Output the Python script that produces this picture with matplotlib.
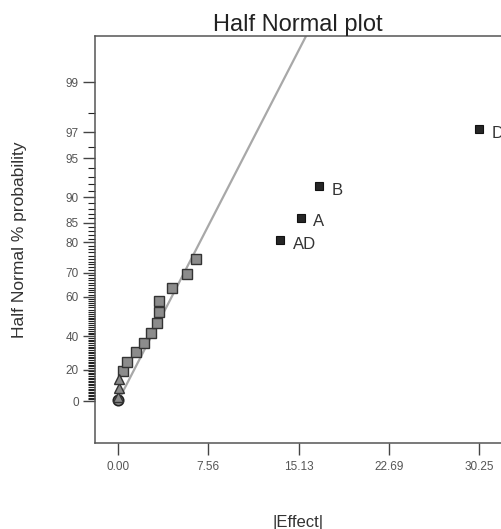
import matplotlib
matplotlib.use("Agg")
import matplotlib.pyplot as plt
from statistics import NormalDist

plt.rcParams['font.family'] = ['Liberation Sans', 'DejaVu Sans']

# ---- data ----
tri_effect = [0.02, 0.05, 0.10]
tri_prob = [2.8, 8.3, 13.9]

circ_effect = [0.00]
circ_prob = [0.4]

sq_effect = [0.44, 0.73, 1.48, 2.20, 2.76, 3.24, 3.46, 3.46, 4.52, 5.75, 6.51]
sq_prob = [19.4, 25.0, 30.6, 36.1, 41.7, 47.2, 52.8, 58.3, 63.9, 69.4, 75.0]

sig_names = ["AD", "A", "B", "D"]
sig_effect = [13.57, 15.30, 16.81, 30.26]
sig_prob = [80.6, 86.1, 91.7, 97.2]

line_effect = [0.0, 15.75]
line_prob = [0.0, 99.68]

ytick_labels = [0, 20, 40, 60, 70, 80, 85, 90, 95, 97, 99]
xtick_values = [0.00, 7.56, 15.13, 22.69, 30.25]

ND = NormalDist()


def hn(p):
    """half-normal quantile of a percent probability"""
    return ND.inv_cdf(0.5 + p / 200.0)


def tz(ps):
    return [hn(p) for p in ps]


fig = plt.figure(figsize=(5.02, 5.29), dpi=100)
ax = fig.add_axes([95 / 502, 86 / 529, 406 / 502, 407 / 529])

# fitted line
ax.plot(line_effect, tz(line_prob), color='#a8a8a8', lw=1.6, zorder=1,
        solid_capstyle='butt')

ax.plot(circ_effect, tz(circ_prob), linestyle='none', marker='o', ms=7.5,
        mfc='#8a8a8a', mec='#222222', mew=1.2, zorder=3)
ax.plot(tri_effect, tz(tri_prob), linestyle='none', marker='^', ms=7.5,
        mfc='#8a8a8a', mec='#333333', mew=1.0, zorder=4)
ax.plot(sq_effect, tz(sq_prob), linestyle='none', marker='s', ms=7.2,
        mfc='#8c8c8c', mec='#333333', mew=1.0, zorder=3)
ax.plot(sig_effect, tz(sig_prob), linestyle='none', marker='s', ms=6.0,
        mfc='#262626', mec='#111111', mew=0.8, zorder=3)

for name, xv, pv in zip(sig_names, sig_effect, sig_prob):
    ax.annotate(name, (xv, hn(pv)), xytext=(9, -3), textcoords='offset points',
                fontsize=12, color='#333333', va='center', ha='left',
                annotation_clip=False)

ax.set_xlim(-1.93, 32.08)
ax.set_ylim(-0.339, 2.948)

ax.set_xticks(xtick_values)
ax.set_xticklabels([f"{v:.2f}" for v in xtick_values])

ax.set_yticks(tz(ytick_labels))
ax.set_yticklabels([str(v) for v in ytick_labels])
minor = [p for p in range(1, 99) if p not in ytick_labels]
ax.set_yticks(tz(minor), minor=True)

ax.tick_params(axis='both', which='major', direction='out', length=8.6,
               width=1.0, color='#444444', labelsize=8.5, labelcolor='#555555',
               pad=3)
ax.tick_params(axis='y', which='minor', direction='out', length=5.0,
               width=0.8, color='#222222')
ax.tick_params(axis='x', which='major', pad=4)

for s in ['left', 'bottom', 'top']:
    ax.spines[s].set_color('#555555')
    ax.spines[s].set_linewidth(1.1)
ax.spines['right'].set_visible(False)

ax.set_title("Half Normal plot", fontsize=17, color='#222222', pad=3)
fig.text(298 / 502, 1 - 522 / 529, "|Effect|", fontsize=12, color='#333333',
         ha='center', va='center')
fig.text(20 / 502, 1 - 240 / 529, "Half Normal % probability", fontsize=12.5,
         color='#333333', ha='center', va='center', rotation=90)

fig.savefig("out.png", dpi=100)
